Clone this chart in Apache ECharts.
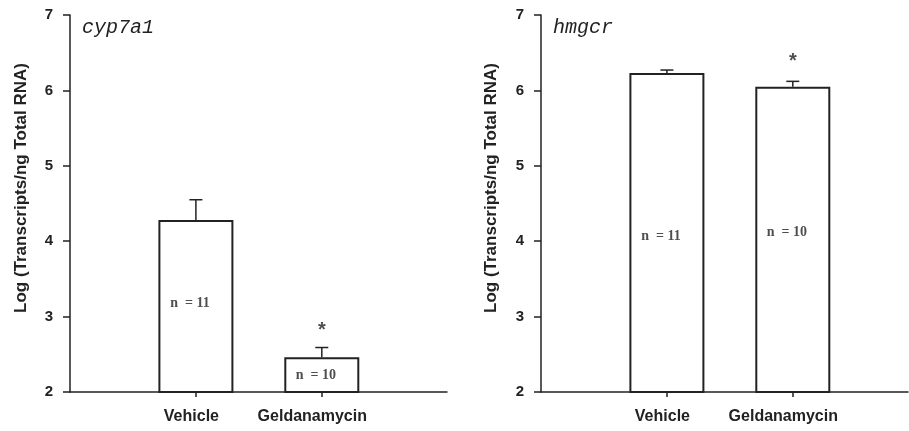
<!DOCTYPE html>
<html><head><meta charset="utf-8">
<script src="https://cdn.jsdelivr.net/npm/echarts@6/dist/echarts.min.js"></script>
<style>html,body{margin:0;padding:0;background:#fff}#c{width:909px;height:431px}</style>
</head><body><div id="c"></div>
<script>
const categories = ['Vehicle', 'Geldanamycin'];
const panelTitles = ['cyp7a1', 'hmgcr'];
const yTicks = [2, 3, 4, 5, 6, 7];
const yAxisName = 'Log (Transcripts/ng Total RNA)';
const cypMean = [4.28, 2.46];
const cypUpper = [4.55, 2.59];
const hmgMean = [6.23, 6.05];
const hmgUpper = [6.27, 6.12];
const nLabels = ['n  = 11', 'n  = 10'];
const cypNLabelY = [3.18, 2.22];
const hmgNLabelY = [4.06, 4.12];
const cypStar = [null, 2.87];
const hmgStar = [null, 6.43];

const dark = '#222';
const grids = [
  {left: 70, top: 15, width: 377, height: 377},
  {left: 541, top: 15, width: 367, height: 377}
];
const xMax = [377/125.9, 367/125.9];
const catPos = categories.map((c,k)=>k+1);
const labelFont = {color:'#222',fontFamily:'Liberation Sans, Arial',fontWeight:'bold',fontSize:16};
function xAx(i){
  return {type:'value', gridIndex:i, min:0, max:xMax[i],
    axisLine:{show:true,lineStyle:{color:dark,width:1.5}},
    axisTick:{show:true,inside:false,length:5,lineStyle:{color:dark,width:1.5},customValues:catPos},
    axisLabel:Object.assign({show:true,customValues:catPos,margin:17,
      formatter:(v)=>{const k=Math.round(v)-1; return categories[k]?('{c'+k+'|'+categories[k]+'}'):'';},
      rich:{c0:Object.assign({padding:[0,9,0,0]},labelFont), c1:Object.assign({padding:[0,19,0,0]},labelFont)}
    }, labelFont),
    splitLine:{show:false}};
}
function yAx(i){
  return {type:'value', gridIndex:i, min:yTicks[0], max:yTicks[yTicks.length-1], interval:1,
    axisLine:{show:true,lineStyle:{color:dark,width:1.5}},
    axisTick:{show:true,length:7,lineStyle:{color:dark,width:1.5}},
    axisLabel:{color:'#222',fontFamily:'Liberation Sans, Arial',fontWeight:'bold',fontSize:15,margin:17,padding:[3,0,0,0]},
    splitLine:{show:false}};
}
function barSeries(i, vals){
  return {type:'bar', xAxisIndex:i, yAxisIndex:i, barWidth:75, clip:true,
    data: vals.map((v,k)=>[k+1,v]),
    itemStyle:{color:'#fff',borderColor:dark,borderWidth:2}, silent:true, z:2};
}
function errSeries(i, mean, upper){
  const d = mean.map((m,k)=>[k+1, m, upper[k]]);
  return {type:'custom', xAxisIndex:i, yAxisIndex:i, data:d, z:3, silent:true,
    renderItem:function(params, api){
      const p0 = api.coord([api.value(0), api.value(1)]);
      const p1 = api.coord([api.value(0), api.value(2)]);
      const hw = 6.5;
      return {type:'group', children:[
        {type:'line', shape:{x1:p0[0],y1:p0[1],x2:p1[0],y2:p1[1]}, style:{stroke:dark,lineWidth:1.5}},
        {type:'line', shape:{x1:p1[0]-hw,y1:p1[1],x2:p1[0]+hw,y2:p1[1]}, style:{stroke:dark,lineWidth:1.5}}
      ]};
    }};
}
function nSeries(i, ys){
  return {type:'scatter', xAxisIndex:i, yAxisIndex:i, symbolSize:0, silent:true, z:4,
    data: ys.map((y,k)=>({value:[k+1,y], label:{formatter:nLabels[k]}})),
    label:{show:true, position:'inside', offset:[-6,0], color:'#222', fontFamily:'Liberation Serif, Times New Roman', fontWeight:'bold', fontSize:14}};
}
function starSeries(i, ys){
  return {type:'scatter', xAxisIndex:i, yAxisIndex:i, symbolSize:0, silent:true, z:4,
    data: ys.map((y,k)=>y===null?null:[k+1,y]).filter(v=>v),
    label:{show:true, position:'inside', formatter:'*', color:'#222', fontFamily:'Liberation Sans, Arial', fontWeight:'bold', fontSize:20, offset:[0,4]}};
}
const nameFont = 'bold 17px "Liberation Sans", Arial, sans-serif';
const titleFont = 'italic 20px "Liberation Mono", "DejaVu Sans Mono", monospace';
const chart = echarts.init(document.getElementById('c'));
chart.setOption({
  animation:false,
  backgroundColor:'#fff',
  grid: grids,
  xAxis:[xAx(0), xAx(1)],
  yAxis:[yAx(0), yAx(1)],
  graphic:[
    {type:'text', left:82, top:18, style:{text:panelTitles[0], fill:'#222', font:titleFont}},
    {type:'text', left:553, top:18, style:{text:panelTitles[1], fill:'#222', font:titleFont}},
    {type:'text', x:21, y:188, rotation:Math.PI/2, style:{text:yAxisName, fill:'#222', font:nameFont, align:'center', verticalAlign:'middle'}},
    {type:'text', x:491, y:188, rotation:Math.PI/2, style:{text:yAxisName, fill:'#222', font:nameFont, align:'center', verticalAlign:'middle'}}
  ],
  series:[
    barSeries(0, cypMean), errSeries(0, cypMean, cypUpper), nSeries(0, cypNLabelY), starSeries(0, cypStar),
    barSeries(1, hmgMean), errSeries(1, hmgMean, hmgUpper), nSeries(1, hmgNLabelY), starSeries(1, hmgStar)
  ]
});
</script></body></html>
